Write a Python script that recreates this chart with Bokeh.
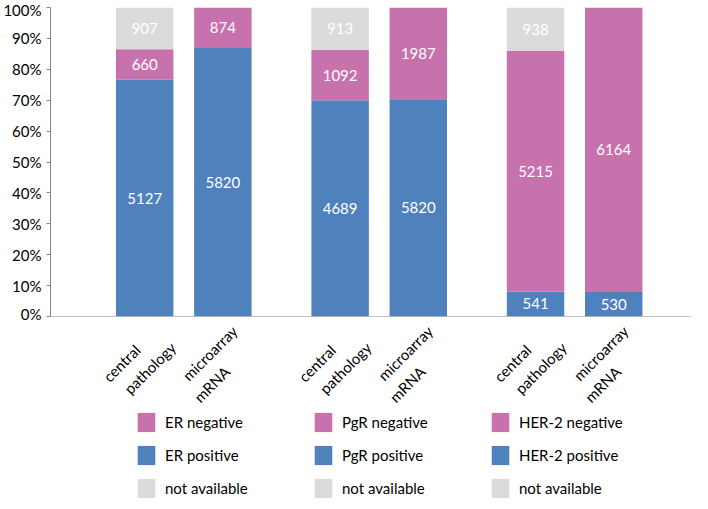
import math
from bokeh.plotting import figure
from bokeh.layouts import column
from bokeh.models import ColumnDataSource, Legend, LegendItem, FixedTicker, Range1d, Span
from bokeh.core.properties import value
from bokeh.embed import file_html
from bokeh.resources import INLINE

# ---- data ----
groups = ["ER", "PgR", "HER-2"]
method_line1 = ["central", "microarray"]
method_line2 = ["pathology", "mRNA"]
# bar heights in percent
pct_positive = [76.6, 86.9, 70.0, 70.3, 8.1, 7.9]
pct_negative = [9.9, 13.1, 16.3, 29.7, 77.9, 92.1]
pct_na = [13.5, 0.0, 13.7, 0.0, 14.0, 0.0]
# printed counts
n_positive = ["5127", "5820", "4689", "5820", "541", "530"]
n_negative = ["660", "874", "1092", "1987", "5215", "6164"]
n_na = ["907", "", "913", "", "938", ""]
y_ticks = [0, 10, 20, 30, 40, 50, 60, 70, 80, 90, 100]
y_tick_labels = ["0%", "10%", "20%", "30%", "40%", "50%", "60%", "70%", "80%", "90%", "100%"]
legend_labels = [["ER negative", "ER positive", "not available"],
                 ["PgR negative", "PgR positive", "not available"],
                 ["HER-2 negative", "HER-2 positive", "not available"]]

BLUE = "#4F81BD"
PINK = "#C772AD"
GRAY = "#DBDBDB"
AXIS = "#868686"
FONT = "Lato"
LEFT = 47
W = 692
H_TOP = 322
H_BOT = 501 - H_TOP
NBSP = "\u00a0"

# slot layout: two bars per group, wider gap between groups
GROUP_STEP = 5
BAR_STEP = 2
n_methods = len(method_line1)
xs = [gi * GROUP_STEP + mi * BAR_STEP for gi in range(len(groups)) for mi in range(n_methods)]

# two-line labels, lines visually left-aligned (shorter line padded)
PAD = [7, 9]
cat_text = []
for gi in range(len(groups)):
    for mi in range(n_methods):
        a, b = method_line1[mi], method_line2[mi]
        if len(a) < len(b):
            a = a + NBSP * PAD[mi]
        else:
            b = b + NBSP * PAD[mi]
        cat_text.append(a + "\n" + b)

xr = Range1d(-2.41, 13.99)

# ---------------- main chart ----------------
p = figure(x_range=xr, y_range=(0, 100), width=W, height=H_TOP,
           output_backend="svg", toolbar_location=None,
           min_border_left=LEFT, min_border_right=1, min_border_top=7, min_border_bottom=6)

src = ColumnDataSource(dict(x=xs, positive=pct_positive, negative=pct_negative, na=pct_na))
p.vbar_stack(["positive", "negative", "na"], x="x", width=1.47, source=src,
             color=[BLUE, PINK, GRAY], line_color=None)

lx, ly, lt = [], [], []
for i, xv in enumerate(xs):
    base = 0.0
    for pv, nv in ((pct_positive[i], n_positive[i]), (pct_negative[i], n_negative[i]), (pct_na[i], n_na[i])):
        if pv > 0 and nv:
            lx.append(xv)
            ly.append(base + pv / 2.0)
            lt.append(nv)
        base += pv
p.text(x=lx, y=ly, text=lt, text_color="white", text_align="center", text_baseline="middle",
       text_font=value(FONT), text_font_size="15px")

p.xgrid.visible = False
p.ygrid.visible = False
p.outline_line_color = None
p.xaxis.visible = False
p.add_layout(Span(location=0, dimension="width", line_color=AXIS, line_width=1))

ya = p.yaxis[0]
ya.ticker = FixedTicker(ticks=y_ticks)
ya.major_label_overrides = {t: l for t, l in zip(y_ticks, y_tick_labels)}
ya.minor_tick_line_color = None
ya.major_tick_in = 0
ya.major_tick_out = 4
ya.axis_line_color = AXIS
ya.major_tick_line_color = AXIS
ya.major_label_text_font = FONT
ya.major_label_text_font_size = "15px"
ya.major_label_text_color = "#000000"
ya.major_label_standoff = 5

# ---------------- category labels + legend ----------------
q = figure(x_range=xr, y_range=(0, H_BOT), width=W, height=H_BOT,
           output_backend="svg", toolbar_location=None,
           min_border_left=LEFT, min_border_right=1, min_border_top=0, min_border_bottom=0)
q.axis.visible = False
q.grid.visible = False
q.outline_line_color = None

q.text(x=xs, y=[H_BOT - 14] * len(xs), text=cat_text, angle=math.pi / 4,
       text_align="right", text_baseline="middle", x_offset=20,
       text_font=value(FONT), text_font_size="15px", text_color="#000000",
       text_line_height=1.3)

# key swatches (kept out of view, only used by the legend)
k_neg = q.vbar(x=[-5], top=[-5], bottom=[-6], width=0.1, color=PINK, line_color=None)
k_pos = q.vbar(x=[-5], top=[-5], bottom=[-6], width=0.1, color=BLUE, line_color=None)
k_na = q.vbar(x=[-5], top=[-5], bottom=[-6], width=0.1, color=GRAY, line_color=None)

items = []
for col in legend_labels:
    items.append(LegendItem(label=col[0], renderers=[k_neg]))
    items.append(LegendItem(label=col[1], renderers=[k_pos]))
    items.append(LegendItem(label=col[2], renderers=[k_na]))
leg = Legend(items=items, nrows=3, orientation="vertical", location=(85, 1),
             glyph_width=22, glyph_height=24, spacing=9, label_width=138, label_standoff=8,
             label_height=24,
             label_text_font=FONT, label_text_font_size="15px", label_text_color="#000000",
             padding=0, margin=0, border_line_color=None, background_fill_alpha=0)
q.add_layout(leg, "center")

layout = column(p, q, spacing=0)
open("out.html", "w").write(file_html(layout, INLINE))
